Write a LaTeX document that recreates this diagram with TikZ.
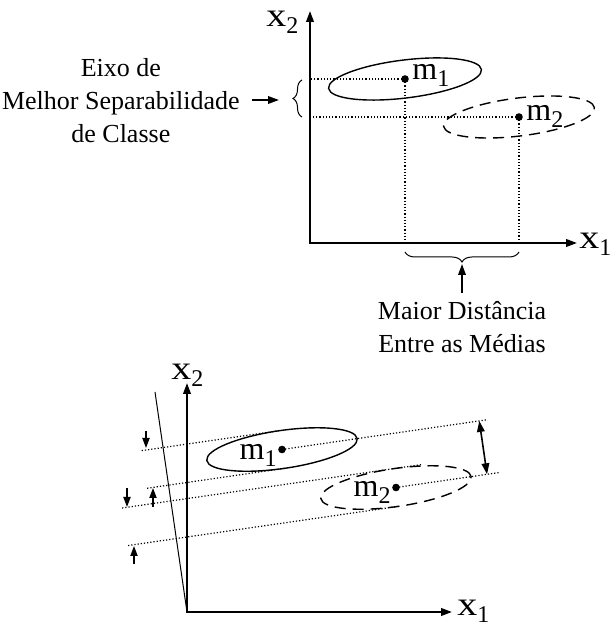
\documentclass[tikz,border=0pt]{standalone}
\usepackage{fontspec}
\setmainfont{Liberation Serif}
\usepackage{graphicx}
\usepackage{tikz}
\usetikzlibrary{arrows.meta, calc, decorations.pathreplacing}

\newcommand{\eixolbl}[2]{\scalebox{1.25}[1.05]{#1}\raisebox{-3.5pt}{\fontsize{12}{12}\selectfont #2}}
\newcommand{\medlbl}[1]{m\raisebox{-3.5pt}{\fontsize{12}{12}\selectfont #1}}

\begin{document}
\begin{tikzpicture}[x=0.5pt, y=0.5pt, >={Triangle[length=5.5pt, width=3.8pt]},
  every node/.style={inner sep=0pt},
  eixo/.style={line width=1pt},
  classe/.style={line width=0.7pt},
  proj/.style={line width=0.6pt, dash pattern=on 0.6pt off 1pt},
  seta/.style={line width=0.8pt},
  setinha/.style={line width=0.7pt, -{Triangle[length=5pt, width=3.6pt]}},
  texto/.style={font=\fontsize{13}{16.5}\selectfont, align=center},
  rotulo/.style={font=\fontsize{16}{16}\selectfont}]
\useasboundingbox (0,0) rectangle (610,627);

% --- figura de cima ---
% eixos
\coordinate (o1) at (310,384);
\coordinate (ya) at (310,616);
\coordinate (xa) at (577,384);
\draw[eixo, <->] (ya) -- (o1) -- (xa);
\node (x2a) [rotulo, anchor=base west] at (266,600) {\eixolbl{x}{2}};
\node (x1a) [rotulo, anchor=base west] at (579,378) {\eixolbl{x}{1}};

% classes
\coordinate (ma1) at (405,548);
\coordinate (ma2) at (519,510);
\draw[classe, rotate around={7:(ma1)}] (ma1) ellipse [x radius=77, y radius=19];
\draw[classe, dash pattern=on 5.5pt off 3.5pt, rotate around={7:(ma2)}] (ma2) ellipse [x radius=76, y radius=19];
\fill (ma1) circle [radius=3.8];
\fill (ma2) circle [radius=3.8];
\node (m1a) [rotulo, anchor=base west] at ($(ma1)+(7,-1)$) {\medlbl{1}};
\node (m2a) [rotulo, anchor=base west] at ($(ma2)+(7,-4)$) {\medlbl{2}};

% projecoes nos eixos
\draw[proj] (ma1) -- (ma1 -| o1);
\draw[proj] (ma2) -- (ma2 -| o1);
\draw[proj] (ma1) -- (ma1 |- o1);
\draw[proj] (ma2) -- (ma2 |- o1);

% chave no eixo x2
\coordinate (ca1) at (302,510);
\coordinate (ca2) at (302,547);
\draw[line width=0.5pt, decorate, decoration={brace, amplitude=4.5pt}] (ca1) -- (ca2);
\coordinate (sa1) at (252,527);
\coordinate (sa2) at (279,527);
\draw[seta, ->] (sa1) -- (sa2);
\node (eixo) [texto, anchor=east] at (240,526) {Eixo de\\Melhor Separabilidade\\de Classe};

% chave no eixo x1
\coordinate (cb1) at (519,375);
\coordinate (cb2) at (405,375);
\draw[line width=0.5pt, decorate, decoration={brace, amplitude=5pt}] (cb1) -- (cb2);
\coordinate (sb1) at (462,334);
\coordinate (sb2) at (462,363);
\draw[seta, ->] (sb1) -- (sb2);
\node (dist) [texto] at (462,300) {Maior Distância\\Entre as Médias};

% --- figura de baixo ---
% eixos
\coordinate (o2) at (187,15);
\coordinate (yb) at (187,244);
\coordinate (xb) at (452,15);
\coordinate (dir) at (155,235);
\draw[eixo, <->] (yb) -- (o2) -- (xb);
\draw[line width=0.5pt] (o2) -- (dir);
\node (x2b) [rotulo, anchor=base west] at (171,247) {\eixolbl{x}{2}};
\node (x1b) [rotulo, anchor=base west] at (457,11) {\eixolbl{x}{1}};

% classes
\coordinate (mb1) at (282,177.5);
\coordinate (mb2) at (396,139.5);
\draw[classe, rotate around={8.25:(mb1)}] (mb1) ellipse [x radius=76, y radius=19];
\draw[classe, dash pattern=on 5.5pt off 3.5pt, rotate around={8.25:(mb2)}] (mb2) ellipse [x radius=76, y radius=19];
\fill (mb1) circle [radius=3.8];
\fill (mb2) circle [radius=3.8];
\node (m1b) [rotulo, anchor=base east] at ($(mb1)+(-5,-10)$) {\medlbl{1}};
\node (m2b) [rotulo, anchor=base east] at ($(mb2)+(-5,-9)$) {\medlbl{2}};

% retas tangentes (perpendiculares ao eixo inclinado)
\coordinate (t1) at ($(mb1)+(98.25:19)$);
\coordinate (t2) at ($(mb1)+(-81.75:19)$);
\coordinate (t3) at ($(mb2)+(98.25:19)$);
\coordinate (t4) at ($(mb2)+(-81.75:19)$);
\coordinate (s1) at ($(t1)+(188.25:139)$);
\coordinate (s2) at ($(t2)+(188.25:139)$);
\coordinate (s3) at ($(t3)+(188.25:274)$);
\coordinate (s4) at ($(t4)+(188.25:273.5)$);
\coordinate (u3) at ($(t3)+(8.25:30)$);
\draw[proj] (s1) -- (t1);
\draw[proj] (s2) -- (t2);
\draw[proj] (s3) -- (u3);
\draw[proj] (s4) -- (t4);

% retas das medias
\coordinate (e1) at ($(mb1)+(8.25:208)$);
\coordinate (e2) at ($(mb2)+(8.25:105)$);
\draw[proj] (mb1) -- (e1);
\draw[proj] (mb2) -- (e2);
\coordinate (d2) at ($(mb2)+(8.25:92)$);
\coordinate (d1) at ($(mb1)!(d2)!(e1)$);
\draw[seta, <->] (d1) -- (d2);

% setinhas das projecoes
\coordinate (a1) at (146,196);
\coordinate (b1) at (146,179);
\coordinate (a2) at (153,120);
\coordinate (b2) at (153,139);
\coordinate (a3) at (127,139);
\coordinate (b3) at (127,120);
\coordinate (a4) at (134,63);
\coordinate (b4) at (134,81);
\draw[setinha] (a1) -- (b1);
\draw[setinha] (a2) -- (b2);
\draw[setinha] (a3) -- (b3);
\draw[setinha] (a4) -- (b4);
\end{tikzpicture}
\end{document}
